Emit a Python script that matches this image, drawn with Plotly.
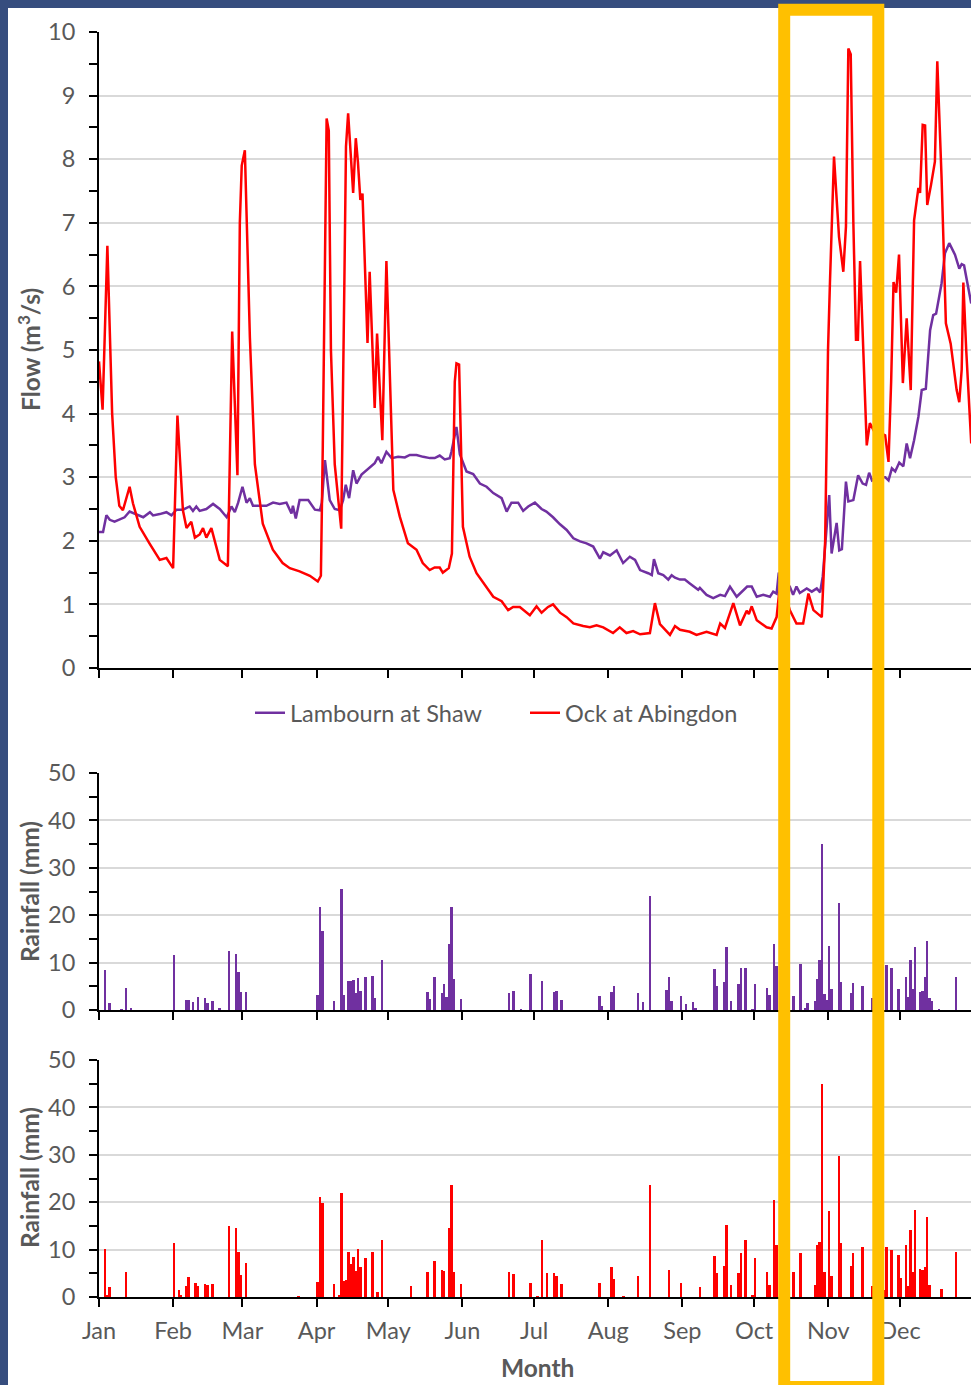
import pandas as pd
import plotly.graph_objects as go

BASE = pd.Timestamp("2020-01-01")

# ---------------- data (days after 1 Jan) ----------------
lambourn_day = [0, 1.7, 3.1, 4.5, 6.5, 8.6, 10.7, 12.8, 15.6, 18.5, 21.3, 22.6, 25.4, 28.2, 30.3, 32.4,
                35.1, 37.9, 39.3, 40.7, 42.1, 44.9, 47.7, 50.5, 53.4, 55.4, 56.8, 58.2, 60.0, 61.7, 63.1, 64.4,
                67.2, 70.0, 72.8, 75.6, 78.4, 80.5, 81.1, 82.3, 83.9, 87.5, 90.3, 92.4, 93.2, 94.5, 96.5, 98.6,
                100.7, 102.1, 103.2, 104.6, 106.3, 107.7, 109.8, 111.9, 113.2, 115.3, 116.7, 118.1, 120.2, 122.4,
                125.1, 127.9, 130.0, 132.8, 135.6, 138.4, 140.4, 142.5, 144.6, 146.7, 147.4, 149.5, 150.9, 153.7,
                156.5, 159.3, 162.1, 164.9, 168.4, 170.5, 172.5, 175.3, 177.4, 179.5, 182.3, 185.1, 187.1, 189.9,
                192.8, 195.6, 198.4, 201.2, 203.9, 206.7, 209.5, 210.9, 213.7, 216.5, 219.2, 222.0, 224.2,
                226.3, 229.7, 231.2, 232.1, 233.9, 236.0, 238.1, 239.5, 240.9, 243.0, 245.0, 247.1, 250.6,
                251.3, 254.1, 256.9, 259.8, 261.8, 263.9, 266.7, 268.8, 271.1, 273.0, 275.1, 277.8, 280.6, 282.0,
                283.4, 284.3, 286.8, 288.9, 290.3, 291.7, 293.1, 296.0, 298.1, 300.2, 301.6, 302.7, 305.4,
                306.4, 308.5, 309.6, 310.7, 312.4, 313.4, 315.5, 317.5, 319.4, 320.8, 322.1, 323.3, 325.7,
                328.8, 330.2, 331.6, 333.0, 334.7, 336.4, 337.8, 339.2, 340.9, 342.7, 344.1, 345.8, 347.6,
                348.9, 350.1, 352.4, 353.8, 355.6, 358.0, 359.8, 360.8, 361.8, 364.8]
lambourn_flow = [2.14, 2.14, 2.40, 2.33, 2.30, 2.33, 2.37, 2.46, 2.42, 2.37, 2.45, 2.40, 2.42, 2.45, 2.40, 2.49,
                 2.49, 2.54, 2.47, 2.54, 2.47, 2.50, 2.58, 2.50, 2.37, 2.54, 2.45, 2.60, 2.85, 2.60, 2.67, 2.55,
                 2.55, 2.55, 2.60, 2.58, 2.60, 2.43, 2.55, 2.35, 2.64, 2.64, 2.49, 2.48, 2.60, 3.27, 2.64, 2.50,
                 2.48, 2.64, 2.88, 2.67, 3.11, 2.90, 3.04, 3.11, 3.14, 3.22, 3.32, 3.22, 3.40, 3.30,
                 3.32, 3.31, 3.35, 3.35, 3.32, 3.30, 3.30, 3.34, 3.28, 3.30, 3.40, 3.79, 3.36, 3.09,
                 3.05, 2.90, 2.85, 2.75, 2.67, 2.46, 2.60, 2.60, 2.47, 2.54, 2.60, 2.50, 2.46, 2.37,
                 2.26, 2.17, 2.04, 1.99, 1.96, 1.91, 1.72, 1.82, 1.77, 1.85, 1.65, 1.75, 1.70,
                 1.54, 1.49, 1.46, 1.71, 1.49, 1.46, 1.39, 1.46, 1.42, 1.39, 1.39, 1.33, 1.23,
                 1.26, 1.15, 1.10, 1.15, 1.13, 1.28, 1.12, 1.20, 1.28, 1.28, 1.12, 1.15, 1.12, 1.20,
                 1.17, 1.50, 1.30, 1.28, 1.15, 1.28, 1.18, 1.25, 1.20, 1.25, 1.19, 1.44, 2.72,
                 1.80, 2.28, 1.85, 1.87, 2.93, 2.62, 2.64, 3.03, 2.90, 2.88, 3.07, 2.95, 3.00,
                 3.00, 2.95, 3.14, 3.09, 3.23, 3.17, 3.53, 3.30, 3.58, 3.95, 4.37, 4.39, 5.31,
                 5.55, 5.57, 6.05, 6.52, 6.68, 6.50, 6.28, 6.35, 6.33, 5.73]

ock_day = [0, 1.5, 3.5, 4.5, 5.5, 7.0, 8.5, 10.0, 12.8, 14.2, 17.0, 21.1, 25.4, 28.2, 31.0, 32.8,
           35.1, 36.6, 38.6, 40.1, 42.1, 43.5, 44.9, 47.0, 48.4, 50.5, 53.9, 55.7, 57.9, 58.9, 59.7, 61.0,
           63.1, 65.2, 68.5, 72.7, 76.8, 79.8, 83.9, 88.2, 91.5, 92.8, 93.6, 95.2, 96.1, 97.0, 98.6, 101.3,
           102.6, 103.3, 104.2, 106.3, 107.4, 108.3, 109.3, 110.2, 112.3, 113.2, 115.3, 116.3, 118.5, 120.2, 123.1, 125.8,
           129.2, 132.8, 135.4, 138.3, 140.4, 142.5, 143.8, 146.3, 147.6, 148.8, 149.5, 150.6, 152.2, 155.0, 157.9, 160.7,
           164.9, 168.4, 171.1, 173.2, 176.0, 180.2, 183.0, 185.1, 187.8, 189.9, 192.8, 195.6, 198.4, 202.5, 205.3, 208.1,
           210.9, 215.0, 217.8, 220.6, 223.4, 226.3, 230.4, 232.5, 234.6, 238.8, 240.9, 243.0, 247.1, 249.9, 254.1, 258.3,
           259.8, 261.8, 265.3, 268.1, 270.9, 271.8, 273.0, 275.1, 277.2, 279.2, 281.3, 283.4, 284.8, 286.8, 288.9, 291.7,
           294.5, 296.7, 298.8, 302.3, 303.7, 304.9, 305.7, 307.4, 309.5, 311.3, 312.4, 313.4, 314.4, 315.5, 316.6, 317.4,
           318.3, 319.7, 321.1, 322.4, 324.5, 326.6, 328.8, 330.2, 331.3, 332.3, 333.4, 334.6, 336.2, 337.8, 339.5, 340.9,
           342.7, 343.4, 344.5, 345.5, 346.4, 348.0, 349.6, 350.6, 352.4, 354.2, 356.2, 358.7, 359.8, 360.8, 361.5, 362.7,
           364.8]
ock_flow = [4.82, 4.06, 6.64, 5.30, 4.00, 3.00, 2.55, 2.48, 2.85, 2.59, 2.22, 1.96, 1.70, 1.73, 1.57, 3.97,
            2.48, 2.20, 2.30, 2.05, 2.10, 2.20, 2.05, 2.20, 2.00, 1.70, 1.60, 5.29, 3.03, 7.00, 7.90, 8.14,
            5.20, 3.20, 2.27, 1.86, 1.65, 1.57, 1.52, 1.45, 1.36, 1.45, 3.50, 8.64, 8.45, 5.00, 3.20, 2.19,
            6.00, 8.20, 8.72, 7.47, 8.33, 7.95, 7.36, 7.46, 5.11, 6.23, 4.09, 5.26, 3.58, 6.40, 2.80, 2.38,
            1.96, 1.86, 1.65, 1.54, 1.58, 1.58, 1.50, 1.57, 1.80, 4.50, 4.79, 4.77, 2.22, 1.75, 1.49, 1.34,
            1.12, 1.05, 0.91, 0.96, 0.96, 0.83, 0.97, 0.87, 0.96, 1.00, 0.87, 0.80, 0.70, 0.66, 0.64, 0.67,
            0.64, 0.55, 0.64, 0.55, 0.58, 0.53, 0.55, 1.02, 0.69, 0.52, 0.66, 0.60, 0.57, 0.52, 0.57, 0.52,
            0.70, 0.63, 1.02, 0.67, 0.90, 0.85, 0.97, 0.75, 0.70, 0.64, 0.62, 0.80, 1.30, 1.20, 0.91, 0.70,
            0.70, 1.17, 0.91, 0.80, 2.00, 5.00, 6.05, 8.04, 6.78, 6.23, 6.94, 9.74, 9.65, 7.00, 5.16, 5.16,
            6.40, 4.80, 3.50, 3.85, 3.70, 3.70, 3.66, 3.24, 4.50, 6.07, 5.90, 6.50, 4.48, 5.50, 4.37, 7.04,
            7.55, 7.47, 8.54, 8.53, 7.28, 7.60, 7.96, 9.54, 7.70, 5.42, 5.10, 4.37, 4.18, 4.69, 6.06, 5.00,
            3.53]

rain_lambourn_day = [2, 4, 9, 11, 13, 31, 36, 37, 39, 41, 44, 45, 47, 50, 54, 57, 58, 59, 61,
                     91, 92, 93, 98, 101, 102, 104, 105, 106, 107, 108, 109, 111, 114, 115, 118,
                     137, 138, 140, 143, 144, 145, 146, 147, 148, 151,
                     171, 173, 176, 180, 185, 190, 191, 193, 209, 210, 214, 215, 225, 227, 230, 237,
                     238, 239, 243, 245, 248, 249, 257, 258, 261, 262, 264, 267, 268, 270, 273, 274,
                     279, 280, 282, 283, 290, 293, 295, 296, 299, 300, 301, 302, 303, 304, 305, 306,
                     309, 310, 314, 315, 319, 323, 329, 331, 334, 337, 338, 339, 340, 341, 343, 344,
                     345, 346, 347, 348, 351, 358]
rain_lambourn_mm = [8.4, 1.5, 0.2, 4.7, 0.3, 11.5, 2.2, 2.1, 1.7, 2.7, 2.5, 1.5, 1.9, 0.4, 12.5, 11.8, 8.0, 3.7, 3.8,
                    3.2, 21.8, 16.7, 1.8, 25.5, 3.2, 6.2, 6.1, 6.3, 3.5, 6.7, 4.0, 7.0, 7.2, 2.5, 10.5,
                    3.8, 2.4, 7.0, 3.5, 5.5, 2.7, 13.9, 21.7, 6.5, 2.4,
                    3.5, 4.0, 0.2, 7.5, 6.1, 3.8, 4.1, 2.1, 2.9, 0.8, 3.8, 5.0, 3.5, 1.7, 24.0, 4.2,
                    6.9, 1.8, 3.0, 1.3, 1.6, 0.3, 8.6, 5.0, 5.9, 13.3, 2.0, 5.4, 8.8, 8.8, 0.2, 5.4,
                    4.6, 3.1, 13.9, 9.2, 2.9, 9.7, 0.5, 1.4, 1.8, 6.6, 10.5, 35.0, 3.4, 2.1, 13.4, 4.4,
                    22.5, 6.0, 3.6, 5.6, 5.0, 2.6, 9.5, 8.8, 4.5, 7.0, 2.8, 10.5, 4.5, 13.3, 3.8, 4.0,
                    7.0, 14.6, 2.5, 1.8, 0.2, 7.0]

rain_ock_day = [2, 3, 4, 11, 31, 33, 34, 36, 37, 40, 41, 44, 45, 47, 54, 57, 58, 59, 61, 83,
                91, 92, 93, 98, 100, 101, 102, 103, 104, 105, 106, 107, 108, 109, 111, 114, 116, 118,
                130, 137, 140, 143, 144, 146, 147, 148, 151,
                171, 173, 180, 183, 185, 187, 190, 191, 193, 209, 214, 215, 219, 225, 230, 238,
                243, 251, 257, 258, 261, 262, 264, 267, 268, 270, 273, 274, 279, 280, 282, 283,
                290, 293, 299, 300, 301, 302, 303, 305, 306, 309, 310, 314, 315, 319, 323, 328,
                329, 331, 334, 335, 337, 338, 339, 340, 341, 343, 344, 345, 346, 347, 352, 358]
rain_ock_mm = [10.1, 0.4, 2.2, 5.2, 11.3, 1.5, 0.4, 2.4, 4.3, 2.9, 2.4, 2.8, 2.5, 2.7, 15.0, 14.5, 9.5, 4.7, 7.1, 0.2,
               3.2, 21.0, 19.8, 2.7, 0.3, 21.9, 3.3, 3.5, 9.5, 7.0, 8.4, 5.5, 10.1, 6.3, 8.2, 9.6, 1.0, 12.1,
               2.4, 5.2, 7.5, 5.8, 5.4, 14.6, 23.7, 5.3, 2.8,
               5.2, 4.9, 3.0, 0.2, 12.1, 5.0, 5.1, 4.5, 2.8, 2.9, 6.3, 3.9, 0.1, 4.4, 23.7, 5.7,
               3.0, 2.1, 8.6, 5.0, 6.6, 15.2, 2.6, 5.1, 9.2, 12.0, 0.4, 8.2, 5.2, 2.6, 20.4, 11.0,
               5.3, 9.3, 2.5, 10.9, 11.5, 44.9, 5.2, 18.1, 4.4, 29.8, 11.3, 6.5, 9.3, 10.5, 2.4, 1.4,
               10.5, 10.0, 8.9, 4.1, 10.9, 2.4, 14.1, 5.3, 18.3, 6.0, 5.8, 6.3, 16.9, 2.5, 1.7, 9.4]

month_ticks = ["2020-01-01", "2020-02-01", "2020-03-01", "2020-04-01", "2020-05-01", "2020-06-01",
               "2020-07-01", "2020-08-01", "2020-09-01", "2020-10-01", "2020-11-01", "2020-12-01"]
month_labels = ["Jan", "Feb", "Mar", "Apr", "May", "Jun", "Jul", "Aug", "Sep", "Oct", "Nov", "Dec"]

# ---------------- styling ----------------
PURPLE = "#7030A0"
RED = "#FF0000"
GREY_TXT = "#595959"
GRID = "#D9D9D9"
NAVY = "#364D7E"
ORANGE = "#FFC000"
FONT = "Lato"
TICK_SIZE = 23.5
TITLE_SIZE = 24.5

W, H = 971, 1385
ML, MR, MT, MB = 99, 0, 32, 88
PW, PH = W - ML - MR, H - MT - MB


def px_x(p):
    return (p - ML) / PW


def px_y(p):
    return (H - MB - p) / PH


def to_dates(days, offset=0.0):
    return [BASE + pd.Timedelta(days=d + offset) for d in days]


x_range = [BASE, BASE + pd.Timedelta(days=364.7)]

fig = go.Figure()
fig.add_trace(go.Scatter(x=to_dates(lambourn_day), y=lambourn_flow, mode="lines",
                         name="Lambourn at Shaw", line=dict(color=PURPLE, width=2.5),
                         xaxis="x", yaxis="y"))
fig.add_trace(go.Scatter(x=to_dates(ock_day), y=ock_flow, mode="lines",
                         name="Ock at Abingdon", line=dict(color=RED, width=2.5),
                         xaxis="x", yaxis="y"))
fig.add_trace(go.Bar(x=to_dates(rain_lambourn_day, 0.5), y=rain_lambourn_mm, marker_color=PURPLE,
                     marker_line_width=0, width=0.8 * 86400000, showlegend=False,
                     xaxis="x2", yaxis="y2"))
fig.add_trace(go.Bar(x=to_dates(rain_ock_day, 0.5), y=rain_ock_mm, marker_color=RED,
                     marker_line_width=0, width=0.8 * 86400000, showlegend=False,
                     xaxis="x3", yaxis="y3"))

tickfont = dict(family=FONT, size=TICK_SIZE, color=GREY_TXT)


def xaxis(anchor, labels):
    return dict(anchor=anchor, domain=[0, 1], type="date", range=x_range,
                tickvals=month_ticks, ticktext=month_labels, showticklabels=labels,
                ticks="outside", ticklen=8, tickwidth=2, tickcolor="black",
                showline=True, linecolor="black", linewidth=2, showgrid=False,
                zeroline=False, tickfont=tickfont, ticklabelstandoff=4)


def yaxis(anchor, domain, top, major, minor):
    return dict(anchor=anchor, domain=domain, range=[0, top], dtick=major, tick0=0,
                ticks="outside", ticklen=8, tickwidth=2, tickcolor="black",
                showline=True, linecolor="black", linewidth=2,
                showgrid=True, gridcolor=GRID, gridwidth=1.5, zeroline=False,
                tickfont=tickfont, ticklabelstandoff=9,
                minor=dict(dtick=minor, tick0=0, ticks="outside", ticklen=8, tickwidth=2,
                           tickcolor="black", showgrid=False))


fig.update_layout(
    width=W, height=H,
    margin=dict(l=ML, r=MR, t=MT, b=MB, pad=0),
    paper_bgcolor="white", plot_bgcolor="white",
    font=dict(family=FONT, size=TICK_SIZE, color=GREY_TXT),
    bargap=0,
    xaxis=xaxis("y", False),
    xaxis2=xaxis("y2", False),
    xaxis3=xaxis("y3", True),
    yaxis=yaxis("x", [px_y(668), 1], 10, 1, 0.5),
    yaxis2=yaxis("x2", [px_y(1010), px_y(773)], 50, 10, 5),
    yaxis3=yaxis("x3", [0, px_y(1060)], 50, 10, 5),
    legend=dict(orientation="h", x=px_x(525), xanchor="center", y=px_y(713), yanchor="middle",
                font=dict(family=FONT, size=TICK_SIZE, color=GREY_TXT), bgcolor="rgba(0,0,0,0)",
                itemwidth=30, entrywidth=230, entrywidthmode="pixels"),
    showlegend=True,
)

title_font = dict(family=FONT, size=TITLE_SIZE, color=GREY_TXT)
annos = [
    dict(text="<b>Flow (m<sup>3</sup>/s)</b>", x=px_x(29), y=px_y(350), textangle=-90),
    dict(text="<b>Rainfall (mm)</b>", x=px_x(29), y=px_y(892), textangle=-90),
    dict(text="<b>Rainfall (mm)</b>", x=px_x(29), y=px_y(1178), textangle=-90),
    dict(text="<b>Month</b>", x=px_x(537), y=px_y(1368), textangle=0),
]
for a in annos:
    fig.add_annotation(xref="paper", yref="paper", showarrow=False, xanchor="center",
                       yanchor="middle", font=title_font, **a)

# navy frame strips (top and left) and the orange highlight box
fig.add_shape(type="rect", xref="paper", yref="paper", x0=px_x(-20), x1=px_x(8),
              y0=px_y(H + 20), y1=px_y(-20), fillcolor=NAVY, line_width=0, layer="above")
fig.add_shape(type="rect", xref="paper", yref="paper", x0=px_x(-20), x1=px_x(W + 20),
              y0=px_y(8), y1=px_y(-20), fillcolor=NAVY, line_width=0, layer="above")
fig.add_shape(type="rect", xref="paper", yref="paper", x0=px_x(784.2), x1=px_x(878.3),
              y0=px_y(1387), y1=px_y(9.8), line=dict(color=ORANGE, width=12),
              fillcolor="rgba(0,0,0,0)", layer="above")

fig.write_html("out.html", config={"displayModeBar": False},
               post_script="document.body.style.margin='0';document.body.style.overflow='hidden';")
